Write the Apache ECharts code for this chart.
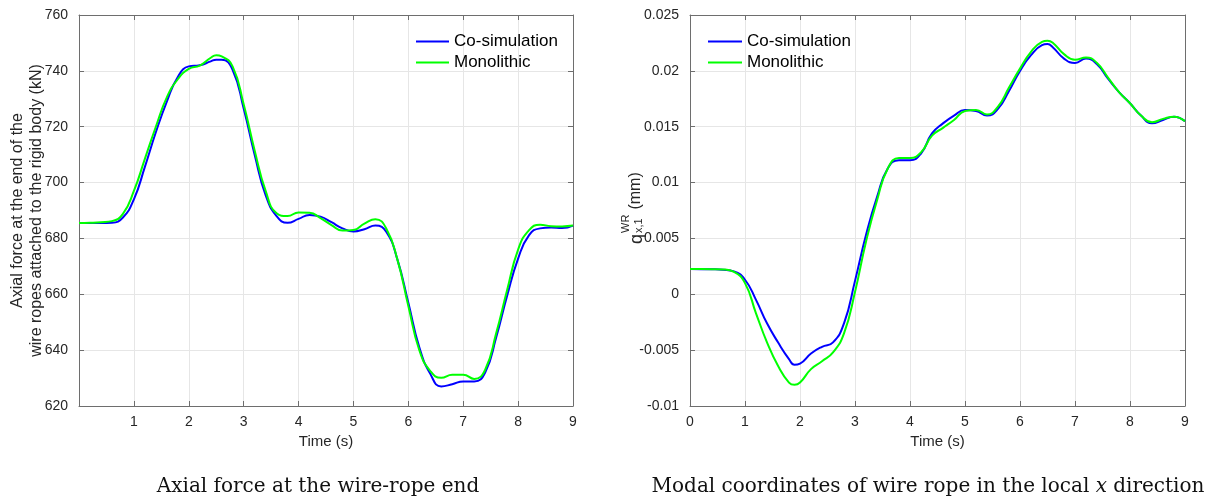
<!DOCTYPE html>
<html>
<head>
<meta charset="utf-8">
<script src="https://cdn.jsdelivr.net/npm/echarts@6/dist/echarts.min.js"></script>
<style>html,body{margin:0;padding:0;background:#fff;}#c{width:1216px;height:502px;}</style>
</head>
<body>
<div id="c"></div>
<script>
// ---- data ----
var timesLeft = [0,0.2,0.4,0.6,0.8,1.0,1.2,1.4,1.6,1.8,2.0,2.2,2.4,2.5,2.6,2.8,3.0,3.2,3.4,3.6,3.8,4.0,4.2,4.4,4.6,4.8,5.0,5.2,5.4,5.6,5.8,6.0,6.2,6.4,6.6,6.8,7.0,7.2,7.4,7.6,7.8,8.0,8.2,8.4,8.6,8.8,9.0];
var coSimForce = [685.5,685.5,685.5,685.6,687.5,694,705.6,718,729,737.8,741.6,742,743.4,744,744,740.3,726.5,710,695.5,688,685.6,687,688.4,687.8,685.8,683.6,682.5,683.3,684.6,682.3,672.5,657,641,631.5,627,627.8,628.8,628.8,632,644.5,659.5,672.8,681.2,683.6,683.9,683.7,684.6];
var monoForce = [685.5,685.6,685.8,686.2,688.8,697,708.5,720,730.5,737,740.7,741.9,744.7,745.6,745.2,741.5,728,711.5,697,689,688,689.3,689.2,687.3,684.8,682.8,683,685.3,686.9,683.5,672.5,655.8,640,632.5,630.1,631.2,631.2,629.7,633,646,661.5,676,683,684.9,684.4,684.3,684.6];

var timesRight = [0,0.2,0.4,0.6,0.8,1.0,1.2,1.4,1.6,1.8,1.9,2.0,2.2,2.4,2.6,2.8,3.0,3.2,3.4,3.6,3.8,4.0,4.2,4.4,4.6,4.8,5.0,5.2,5.4,5.6,5.8,6.0,6.2,6.4,6.5,6.6,6.8,7.0,7.2,7.4,7.6,7.8,8.0,8.2,8.4,8.6,8.8,9.0];
var coSimModal = [0.00226,0.00225,0.00224,0.0022,0.00205,0.0013,-0.0005,-0.0026,-0.0043,-0.0058,-0.0063,-0.0062,-0.0053,-0.0047,-0.0043,-0.0026,0.0012,0.0053,0.0087,0.0113,0.012,0.012,0.0126,0.0144,0.0153,0.016,0.0165,0.0164,0.016,0.0166,0.0182,0.02,0.0214,0.0223,0.0224,0.0221,0.0211,0.0207,0.0211,0.0206,0.0193,0.0181,0.0171,0.016,0.0153,0.0156,0.0159,0.0155];
var monoModal = [0.00226,0.00226,0.00225,0.00222,0.002,0.001,-0.0017,-0.0043,-0.0064,-0.0079,-0.0081,-0.0079,-0.0067,-0.006,-0.0052,-0.0035,0.0002,0.0047,0.0084,0.0113,0.0122,0.0122,0.0127,0.0142,0.0149,0.0156,0.0164,0.0165,0.0161,0.0168,0.0185,0.0202,0.0217,0.0226,0.0227,0.0225,0.0215,0.021,0.0212,0.0207,0.0194,0.0181,0.0171,0.016,0.0154,0.0157,0.0159,0.0155];

var seriesNames = ['Co-simulation', 'Monolithic'];
var leftYName = 'Axial force at the end of the\nwire ropes attached to the rigid body (kN)';
var xName = 'Time (s)';
var captionLeft = 'Axial force at the wire-rope end';
var captionRight = ['Modal coordinates of wire rope in the local ', 'x', ' direction'];

function pairs(t, v) { return t.map(function (x, i) { return [x, v[i]]; }); }

// ---- styles ----
var FONT = 'Liberation Sans, Arial, Helvetica, sans-serif';
var SERIF = 'DejaVu Serif, Liberation Serif, serif';
var TXT = '#262626';
var BOX = '#6e6e6e';
var GRIDC = '#e6e6e6';

function xAxisMain(gi, hideZero) {
  return {
    type: 'value', gridIndex: gi, min: 0, max: 9, interval: 1, position: 'bottom',
    name: xName, nameLocation: 'middle', nameGap: 28, nameMoveOverlap: false,
    nameTextStyle: { fontFamily: FONT, fontSize: 15, color: TXT },
    axisLine: { show: true, onZero: false, lineStyle: { color: BOX, width: 1 } },
    axisTick: { show: true, inside: true, length: 5, lineStyle: { color: BOX } },
    axisLabel: { fontFamily: FONT, fontSize: 14, color: TXT, margin: 9,
      formatter: function (v) { return (hideZero && v === 0) ? '' : String(v); } },
    splitLine: { show: true, lineStyle: { color: GRIDC, width: 1 } }
  };
}
function xAxisTop(gi) {
  return {
    type: 'value', gridIndex: gi, min: 0, max: 9, interval: 1, position: 'top',
    axisLine: { show: true, onZero: false, lineStyle: { color: BOX, width: 1 } },
    axisTick: { show: true, inside: true, length: 5, lineStyle: { color: BOX } },
    axisLabel: { show: false }, splitLine: { show: false }
  };
}
function yAxisRight(gi, mn, mx, iv) {
  return {
    type: 'value', gridIndex: gi, min: mn, max: mx, interval: iv, position: 'right',
    axisLine: { show: true, onZero: false, lineStyle: { color: BOX, width: 1 } },
    axisTick: { show: true, inside: true, length: 5, lineStyle: { color: BOX } },
    axisLabel: { show: false }, splitLine: { show: false }
  };
}

var lineCommon = { type: 'line', showSymbol: false, symbol: 'none', smooth: 0.5 };

var option = {
  backgroundColor: '#fff',
  animation: false,
  grid: [
    { left: 79, right: 643, top: 15, height: 391, containLabel: false },
    { left: 690, right: 31, top: 15, height: 391, containLabel: false }
  ],
  xAxis: [xAxisMain(0, true), xAxisTop(0), xAxisMain(1, false), xAxisTop(1)],
  yAxis: [
    {
      type: 'value', gridIndex: 0, min: 620, max: 760, interval: 20, position: 'left',
      name: leftYName, nameLocation: 'middle', nameRotate: 90, nameGap: 33, nameMoveOverlap: false,
      nameTextStyle: { fontFamily: FONT, fontSize: 16, color: TXT, lineHeight: 19 },
      axisLine: { show: true, onZero: false, lineStyle: { color: BOX, width: 1 } },
      axisTick: { show: true, inside: true, length: 5, lineStyle: { color: BOX } },
      axisLabel: { fontFamily: FONT, fontSize: 14, color: TXT, margin: 11 },
      splitLine: { show: true, lineStyle: { color: GRIDC, width: 1 } }
    },
    yAxisRight(0, 620, 760, 20),
    {
      type: 'value', gridIndex: 1, min: -0.01, max: 0.025, interval: 0.005, position: 'left',
      axisLine: { show: true, onZero: false, lineStyle: { color: BOX, width: 1 } },
      axisTick: { show: true, inside: true, length: 5, lineStyle: { color: BOX } },
      axisLabel: { fontFamily: FONT, fontSize: 14, color: TXT, margin: 11,
        formatter: function (v) { return String(Math.round(v * 100000) / 100000); } },
      splitLine: { show: true, lineStyle: { color: GRIDC, width: 1 } }
    },
    yAxisRight(1, -0.01, 0.025, 0.005)
  ],
  legend: [
    { data: seriesNames, orient: 'vertical', left: 411, top: 28, icon: 'rect', itemWidth: 33, itemHeight: 2,
      itemGap: 4, textStyle: { fontFamily: FONT, fontSize: 17, color: '#000' }, selectedMode: false },
    { data: seriesNames, orient: 'vertical', left: 703, top: 28, icon: 'rect', itemWidth: 34, itemHeight: 2,
      itemGap: 4, textStyle: { fontFamily: FONT, fontSize: 17, color: '#000' }, selectedMode: false }
  ],
  series: [
    Object.assign({}, lineCommon, { name: seriesNames[0], xAxisIndex: 0, yAxisIndex: 0, data: pairs(timesLeft, coSimForce),
      lineStyle: { color: '#0000ff', width: 2 }, itemStyle: { color: '#0000ff' } }),
    Object.assign({}, lineCommon, { name: seriesNames[1], xAxisIndex: 0, yAxisIndex: 0, data: pairs(timesLeft, monoForce),
      lineStyle: { color: '#00ff00', width: 2 }, itemStyle: { color: '#00ff00' } }),
    Object.assign({}, lineCommon, { name: seriesNames[0], xAxisIndex: 2, yAxisIndex: 2, data: pairs(timesRight, coSimModal),
      lineStyle: { color: '#0000ff', width: 2 }, itemStyle: { color: '#0000ff' } }),
    Object.assign({}, lineCommon, { name: seriesNames[1], xAxisIndex: 2, yAxisIndex: 2, data: pairs(timesRight, monoModal),
      lineStyle: { color: '#00ff00', width: 2 }, itemStyle: { color: '#00ff00' } })
  ],
  graphic: [
    {
      type: 'group', x: 628, y: 208, rotation: Math.PI / 2,
      children: [
        { type: 'text', x: -36, y: 0, style: { text: 'q', fontFamily: FONT, fontSize: 18, fill: TXT, verticalAlign: 'alphabetic' } },
        { type: 'text', x: -25, y: -8, style: { text: 'WR', fontFamily: FONT, fontSize: 11, fill: TXT, verticalAlign: 'alphabetic' } },
        { type: 'text', x: -25, y: 5, style: { text: 'x,1', fontFamily: FONT, fontSize: 11, fill: TXT, verticalAlign: 'alphabetic' } },
        { type: 'text', x: -6, y: 0, style: { text: ' (mm)', fontFamily: FONT, fontSize: 16, fill: TXT, verticalAlign: 'alphabetic' } }
      ]
    },
    { type: 'text', x: 318, y: 487, style: { text: captionLeft, fontFamily: SERIF, fontSize: 20, fill: '#111', align: 'center', verticalAlign: 'middle' } },
    { type: 'text', x: 928, y: 487, style: {
        text: '{n|' + captionRight[0] + '}{i|' + captionRight[1] + '}{n|' + captionRight[2] + '}',
        align: 'center', verticalAlign: 'middle',
        rich: {
          n: { fontFamily: SERIF, fontSize: 20, fill: '#111', color: '#111' },
          i: { fontFamily: SERIF, fontSize: 20, fontStyle: 'italic', fill: '#111', color: '#111' }
        } } }
  ]
};

var chart = echarts.init(document.getElementById('c'), null, { renderer: 'canvas' });
chart.setOption(option);
</script>
</body>
</html>
